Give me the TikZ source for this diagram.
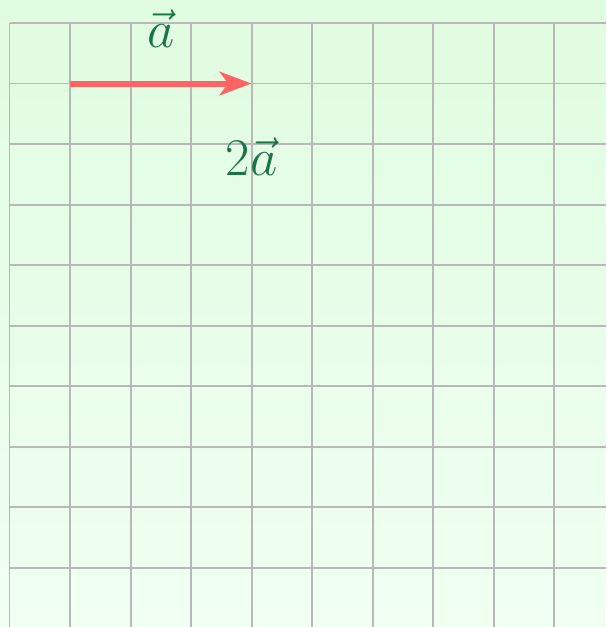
\documentclass[tikz,border=0pt]{standalone}
\usepackage{tikz}
\usetikzlibrary{arrows.meta}
\definecolor{bgtop}{HTML}{E0FCE0}
\definecolor{bgbot}{HTML}{F0FFF2}
\definecolor{gridgray}{HTML}{B8B8B8}
\definecolor{vecred}{HTML}{FF6464}
\definecolor{labgreen}{HTML}{1B7348}
\tikzset{
  paper/.style={top color=bgtop,bottom color=bgbot,draw=none},
  gridline/.style={draw=gridgray,line width=0.9pt},
  vec/.style={draw=vecred,line width=2.8pt,-{Stealth[length=15pt,width=11pt,inset=4pt]}},
  lbl/.style={text=labgreen,font=\fontsize{28}{33}\selectfont,inner sep=0pt}
}

\begin{document}
\begin{tikzpicture}
\useasboundingbox (-0.157,0.38) rectangle (9.86,-9.98);
\shade[paper] (-0.157,0.38) rectangle (9.86,-9.98);
\draw[gridline,step=1] (0,-9.98) grid (9.86,0);
\coordinate (tail) at (1,-1);
\coordinate (head) at (4,-1);
\draw[vec] (tail) -- (head);
\node[lbl] (veca) at (2.5,-0.1) {$\vec{a}$};
\node[lbl] (twoa) at (4,-2.2) {$2\vec{a}$};
\end{tikzpicture}
\end{document}
